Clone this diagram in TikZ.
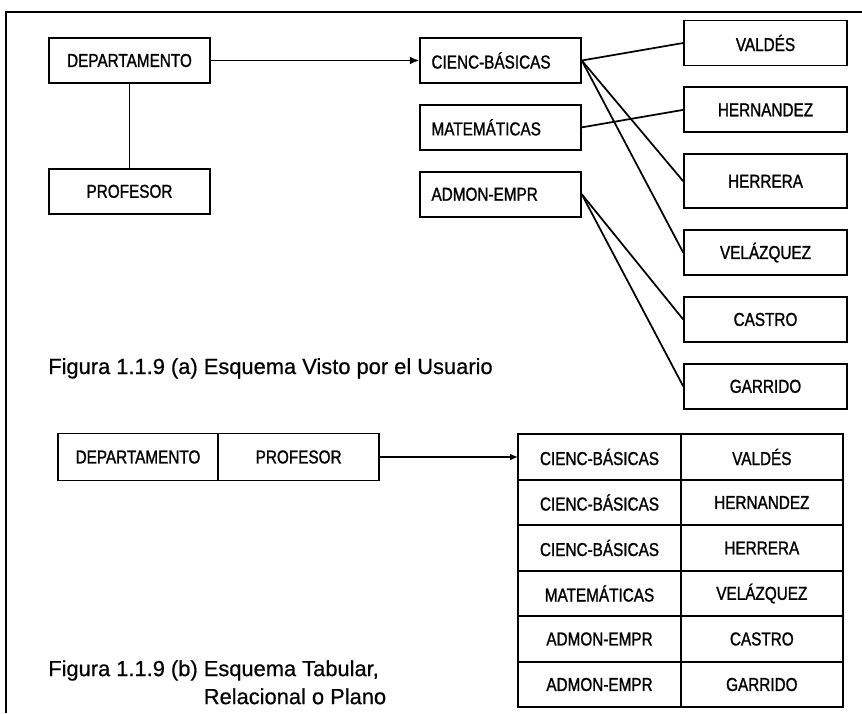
\documentclass[tikz,border=0pt]{standalone}
\usepackage{fontspec}
\setmainfont{Liberation Sans}[FakeBold=0.6]
\newfontfamily\boxfont{Liberation Sans}[FakeStretch=0.82, FakeBold=1.2]
\usetikzlibrary{arrows.meta, positioning}

\begin{document}
\begin{tikzpicture}[
  x=0.75pt, y=-0.75pt,
  box/.style = {draw, line width=1.4pt, minimum height=33.75pt, minimum width=120.5pt, inner sep=0pt, font=\boxfont\fontsize{14}{16}\selectfont},
  midbox/.style = {box, text width=103.5pt, align=left},
  namebox/.style = {box, minimum width=122pt},
  cell/.style = {box, minimum width=122pt, minimum height=34.1pt, outer sep=0pt},
  link/.style = {line width=1.3pt},
  arrow/.style = {line width=1.3pt, -{Latex[length=7pt,width=6pt]}},
  caption/.style = {inner sep=0pt, font=\fontsize{16.4}{21}\selectfont, align=left},
  node distance=15pt
]
  \useasboundingbox (0,0) rectangle (862,713);

  % open frame
  \draw[link] (6,713) -- (6,12) -- (862,12);

  % (a) user view
  \node[box] (dept) at (129.5, 60.5) {DEPARTAMENTO};
  \node[box, below=63pt of dept] (prof) {PROFESOR};

  \node[midbox] (cb) at (500.5, 60.5) {CIENC-BÁSICAS};
  \node[midbox, below=of cb] (mat) {MATEMÁTICAS};
  \node[midbox, below=of mat] (adm) {ADMON-EMPR};

  \node[namebox] (valdes) at (765.5, 43) {VALDÉS};
  \node[namebox, below=of valdes] (hernandez) {HERNANDEZ};
  \node[namebox, below=of hernandez, minimum height=40.5pt] (herrera) {HERRERA};
  \node[namebox, below=of herrera] (velazquez) {VELÁZQUEZ};
  \node[namebox, below=of velazquez] (castro) {CASTRO};
  \node[namebox, below=of castro] (garrido) {GARRIDO};

  \draw[link] (dept) -- (prof);
  \draw[arrow] (dept) -- (cb);

  % departments to teachers
  \draw[link] (cb.east) -- (valdes.west);
  \draw[link] (cb.east) -- (herrera.west);
  \draw[link] (cb.east) -- (velazquez.west);
  \draw[link] (mat.east) -- (hernandez.west);
  \draw[link] (adm.east) -- (castro.west);
  \draw[link] (adm.east) -- (garrido.west);

  \node[caption, anchor=base west] (capa) at (48, 374) {Figura 1.1.9 (a) Esquema Visto por el Usuario};

  % (b) tabular scheme
  \node[box, minimum height=35.25pt, outer sep=0pt] (dept2) at (138, 457) {DEPARTAMENTO};
  \node[box, minimum height=35.25pt, outer sep=0pt, right=0pt of dept2] (prof2) {PROFESOR};

  \foreach \dpto/\prf [count=\i] in {CIENC-BÁSICAS/VALDÉS, CIENC-BÁSICAS/HERNANDEZ, CIENC-BÁSICAS/HERRERA, MATEMÁTICAS/VELÁZQUEZ, ADMON-EMPR/CASTRO, ADMON-EMPR/GARRIDO} {
    \node[cell] (l\i) at (599.5, 411.5+45.5*\i) {\dpto};
    \node[cell, minimum width=121.5pt, right=0pt of l\i] (r\i) {\prf};
  }

  \draw[line width=1.3pt, -{Latex[length=6pt,width=5pt]}] (prof2) -- (l1);

  \node[caption, anchor=north west] (capb) at (48, 660) {Figura 1.1.9 (b) Esquema Tabular,\\\phantom{Figura 1.1.9 (b) }Relacional o Plano};

\end{tikzpicture}
\end{document}
